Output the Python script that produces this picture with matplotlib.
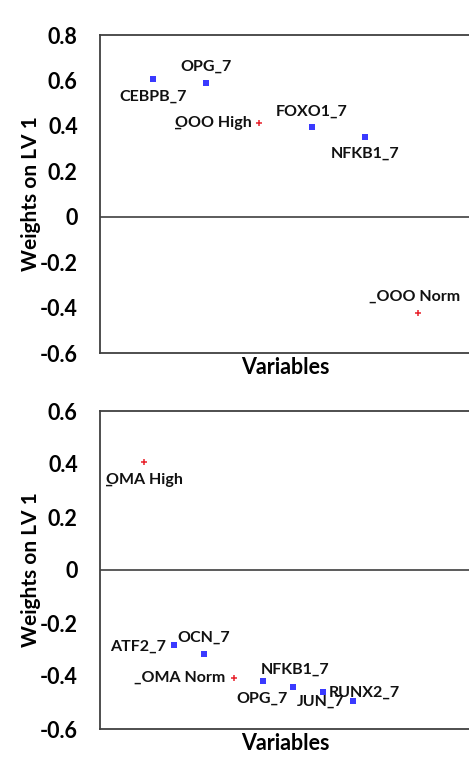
import matplotlib
matplotlib.use("Agg")
import matplotlib.pyplot as plt

plt.rcParams["font.family"] = ["Lato", "DejaVu Sans"]
plt.rcParams["font.weight"] = "bold"

# top panel: LV 1 weights
top_names = ["CEBPB_7", "OPG_7", "\u0332OOO High", "FOXO1_7", "NFKB1_7", "_OOO Norm"]
top_x = [1, 2, 3, 4, 5, 6]
top_w = [0.608, 0.590, 0.414, 0.396, 0.352, -0.423]
top_kind = ["gene", "gene", "out", "gene", "gene", "out"]

# bottom panel: LV 1 weights
bot_names = ["\u0332OMA High", "ATF2_7", "OCN_7", "_OMA Norm", "NFKB1_7", "OPG_7", "JUN_7", "RUNX2_7"]
bot_x = [1, 2, 3, 4, 5, 6, 7, 8]
bot_w = [0.408, -0.283, -0.317, -0.408, -0.419, -0.441, -0.460, -0.494]
bot_kind = ["out", "gene", "gene", "out", "gene", "gene", "gene", "gene"]

# label placement (pixel offset from marker, horizontal alignment)
top_lab = [((0, -18), "center"), ((0, 16), "center"), ((-7, 0), "right"),
           ((0, 15), "center"), ((0, -17), "center"), ((-3, 16), "center")]
bot_lab = [((0, -18), "center"), ((-8, -2), "right"), ((0, 16), "center"),
           ((-8, 0), "right"), ((-3, 11), "left"), ((-5, -12), "right"),
           ((-2, -10), "center"), ((12, 8), "center")]

W, H = 469, 757
fig = plt.figure(figsize=(W / 100, H / 100), dpi=100)

axes_px = [(35, 353, (0, 7), (-0.6, 0.8), 0.2),
           (411, 729, (-0.48, 11.97), (-0.6, 0.6), 0.2)]

panels = [(top_names, top_x, top_w, top_kind, top_lab),
          (bot_names, bot_x, bot_w, bot_kind, bot_lab)]

dark = "#404040"
for (ytop, ybot, xlim, ylim, step), (names, xs, ws, kinds, labs) in zip(axes_px, panels):
    ax = fig.add_axes([100 / W, 1 - ybot / H, 371 / W, (ybot - ytop) / H])
    ax.set_xlim(*xlim)
    ax.set_ylim(*ylim)
    n = int(round((ylim[1] - ylim[0]) / step))
    ticks = [round(ylim[0] + i * step, 1) for i in range(n + 1)]
    ax.set_yticks(ticks)
    ax.set_yticklabels(["0" if t == 0 else f"{t:.1f}" for t in ticks])
    ax.set_xticks([])
    ax.tick_params(axis="y", length=0, pad=16, labelsize=15.5)
    for s in ["left", "top", "bottom", "right"]:
        ax.spines[s].set_color(dark)
        ax.spines[s].set_linewidth(1.3)
    ax.axhline(0, color=dark, lw=1.2)

    for name, x, w, k, (off, ha) in zip(names, xs, ws, kinds, labs):
        if k == "gene":
            ax.plot(x, w, "s", color="#3a3aff", ms=4, mew=0)
        else:
            ax.plot(x, w, "+", color="#e8202a", ms=5, mew=1.1)
        ax.annotate(name, (x, w), xytext=(off[0] * 0.72, off[1] * 0.72),
                    textcoords="offset points", ha=ha, va="center",
                    fontsize=11.5, fontweight="bold", color="#111111")

    ax.set_xlabel("Variables", fontsize=15.5, fontweight="bold", labelpad=3)
    ax.set_ylabel("Weights on LV 1", fontsize=15, fontweight="bold")
    ax.yaxis.set_label_coords(-0.16, 0.5)

fig.text(0.0, 1 - 5 / H, "B", fontsize=26, fontweight="bold", va="bottom", ha="left")

fig.savefig("out.png", dpi=100)
